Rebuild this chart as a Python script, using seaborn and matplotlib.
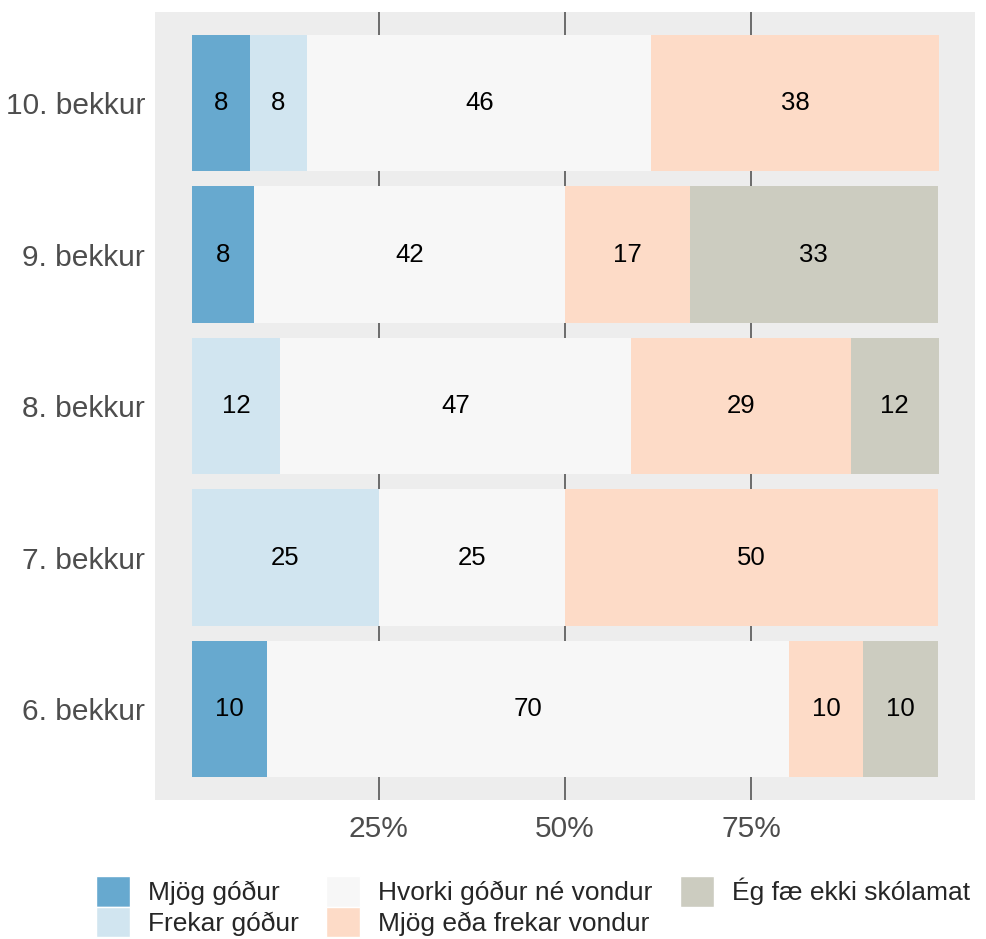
import numpy as np
import pandas as pd
import seaborn as sns
import matplotlib.pyplot as plt
from matplotlib.patches import Patch

# --- data ---
grades = ['10. bekkur', '9. bekkur', '8. bekkur', '7. bekkur', '6. bekkur']
answers = ['Mjög góður', 'Frekar góður', 'Hvorki góður né vondur',
           'Mjög eða frekar vondur', 'Ég fæ ekki skólamat']
colors = ['#67A9CF', '#D1E5F0', '#F7F7F7', '#FDDBC7', '#CCCCC0']

mjog_godur = [7.7, 8.3, 0, 0, 10]
frekar_godur = [7.7, 0, 11.8, 25, 0]
hvorki = [46.2, 41.7, 47.1, 25, 70]
vondur = [38.5, 16.7, 29.4, 50, 10]
ekki_skolamat = [0, 33.3, 11.8, 0, 10]

df = pd.DataFrame({'bekkur': grades,
                   answers[0]: mjog_godur,
                   answers[1]: frekar_godur,
                   answers[2]: hvorki,
                   answers[3]: vondur,
                   answers[4]: ekki_skolamat})

sns.set_style('white')
plt.rcParams['font.family'] = ['Liberation Sans', 'DejaVu Sans']

fig = plt.figure(figsize=(9.86, 9.39), dpi=100)
ax = fig.add_axes([0.157, 0.148, 0.832, 0.839])
ax.set_facecolor('#EDEDED')

# stacked bars: draw cumulative sums, widest first
cum = df[answers].cumsum(axis=1)
for i in range(len(answers) - 1, -1, -1):
    sns.barplot(x=cum[answers[i]], y=df['bekkur'], order=grades, orient='h',
                color=colors[i], width=0.9, saturation=1, linewidth=0, ax=ax,
                zorder=2)

# value labels
for r, g in enumerate(grades):
    left = 0
    for a in answers:
        v = df.loc[r, a]
        if v > 0:
            ax.text(left + v / 2, r, f'{v:.0f}', ha='center', va='center',
                    fontsize=18.5, color='black', zorder=3)
        left += v

ax.set_xlim(-5, 105)
ax.set_ylim(len(grades) - 0.4, -0.6)
ax.set_xticks([25, 50, 75])
ax.set_xticklabels(['25%', '50%', '75%'])
ax.grid(axis='x', color='#555555', linewidth=1.2, zorder=1)
ax.grid(axis='y', visible=False)
ax.set_axisbelow(True)
for s in ax.spines.values():
    s.set_visible(False)
ax.tick_params(axis='both', labelsize=21.5, labelcolor='#4D4D4D', color='#333333',
               length=3.5, width=1)
ax.tick_params(axis='x', pad=7)
ax.set_xlabel('')
ax.set_ylabel('')

handles = [Patch(facecolor=c, edgecolor='white', linewidth=1) for c in colors]
fig.legend(handles, answers, loc='upper left', bbox_to_anchor=(0.097, 0.067),
           ncol=3, frameon=False, fontsize=19, handlelength=1.29,
           handleheight=1.4, handletextpad=0.68, labelspacing=0.0,
           columnspacing=1.05, borderaxespad=0, borderpad=0)

fig.savefig('out.png', dpi=100)
